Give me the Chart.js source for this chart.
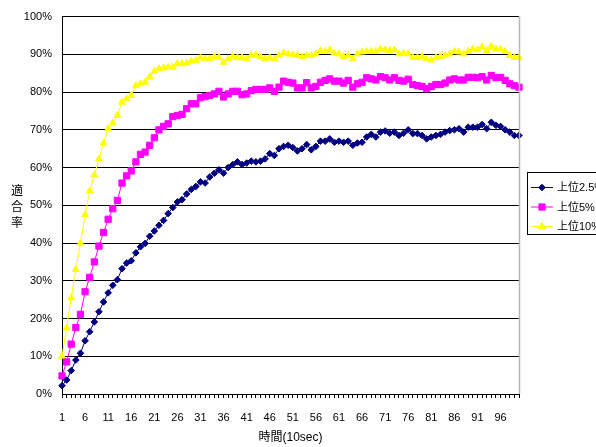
<!DOCTYPE html>
<html>
<head>
<meta charset="utf-8">
<script src="https://cdn.jsdelivr.net/npm/chart.js@4/dist/chart.umd.min.js"></script>
<style>
  html, body { margin: 0; padding: 0; background: #fff; }
  #wrap { width: 596px; height: 447px; overflow: hidden; }
</style>
</head>
<body>
<div id="wrap"><canvas id="c" width="596" height="447"></canvas></div>
<script>
const categories = [
  '1','2','3','4','5','6','7','8','9','10','11','12','13','14','15','16','17','18','19','20',
  '21','22','23','24','25','26','27','28','29','30','31','32','33','34','35','36','37','38','39','40',
  '41','42','43','44','45','46','47','48','49','50','51','52','53','54','55','56','57','58','59','60',
  '61','62','63','64','65','66','67','68','69','70','71','72','73','74','75','76','77','78','79','80',
  '81','82','83','84','85','86','87','88','89','90','91','92','93','94','95','96','97','98','99','100'
];

const seriesNames = ['上位2.5%', '上位5%', '上位10%'];

// 上位2.5% (percent)
const top2_5 = [
  2.2, 3.7, 6.2, 9.0, 10.8, 14.1, 16.5, 19.1, 21.8, 24.4,
  26.8, 28.8, 30.3, 33.2, 34.7, 35.3, 37.4, 39.0, 39.9, 41.8,
  43.2, 44.7, 46.0, 47.8, 49.4, 50.9, 51.5, 53.0, 54.2, 55.0,
  56.2, 55.9, 57.5, 58.5, 59.4, 58.5, 60.0, 60.8, 61.5, 60.8,
  61.2, 61.7, 61.5, 61.7, 62.3, 63.7, 63.2, 65.0, 65.6, 65.9,
  65.3, 64.4, 65.0, 66.1, 64.7, 65.6, 67.0, 67.0, 67.6, 66.7,
  67.0, 66.7, 67.0, 65.9, 66.5, 66.7, 68.1, 68.8, 68.1, 69.4,
  69.7, 69.1, 69.4, 68.5, 69.1, 70.0, 69.0, 69.0, 68.5, 67.6,
  68.1, 68.5, 68.8, 69.4, 69.8, 70.0, 70.3, 69.4, 70.7, 70.7,
  70.7, 71.4, 70.3, 72.0, 71.2, 70.9, 70.0, 69.4, 68.5, 68.5
];

// 上位5% (percent)
const top5 = [
  4.8, 8.5, 13.2, 17.6, 21.1, 27.1, 30.9, 35.0, 39.2, 42.8,
  46.3, 49.1, 51.3, 55.9, 57.8, 59.1, 61.5, 63.5, 64.1, 65.9,
  67.9, 70.0, 70.9, 71.6, 73.5, 73.8, 74.1, 75.6, 76.9, 76.9,
  78.5, 78.8, 79.1, 79.5, 80.2, 78.7, 79.5, 80.2, 80.2, 79.3,
  79.5, 80.4, 80.7, 80.7, 80.7, 81.1, 80.2, 81.3, 82.9, 82.6,
  82.4, 81.1, 81.1, 82.5, 81.1, 81.5, 82.6, 83.1, 83.5, 82.9,
  82.9, 82.4, 83.1, 81.3, 82.2, 82.6, 83.8, 83.5, 83.2, 84.1,
  83.8, 83.2, 83.8, 83.1, 82.9, 83.4, 82.0, 81.7, 81.5, 80.9,
  81.5, 82.0, 82.0, 82.4, 83.2, 83.5, 83.2, 83.2, 83.9, 83.9,
  83.8, 84.1, 83.2, 84.4, 83.8, 83.9, 83.1, 82.2, 81.7, 81.3
];

// 上位10% (percent)
const top10 = [
  10.0, 17.5, 25.5, 33.0, 40.0, 47.5, 53.8, 58.0, 62.3, 66.5,
  70.3, 71.8, 73.8, 77.3, 78.2, 79.1, 81.7, 82.2, 82.6, 84.1,
  85.5, 86.2, 86.4, 86.6, 86.6, 87.5, 87.5, 87.7, 88.2, 88.4,
  89.1, 88.8, 88.8, 89.4, 89.2, 87.9, 88.8, 89.4, 89.1, 89.1,
  88.8, 89.7, 89.9, 89.4, 88.8, 89.1, 88.8, 89.7, 90.4, 90.1,
  89.9, 89.7, 89.4, 89.7, 89.7, 90.1, 91.0, 90.8, 91.2, 90.3,
  90.1, 89.4, 89.7, 88.8, 90.1, 90.6, 90.8, 90.8, 90.8, 91.4,
  91.2, 91.0, 91.2, 90.1, 90.3, 90.1, 89.2, 89.1, 89.4, 88.8,
  88.5, 89.1, 89.4, 89.7, 90.1, 90.8, 90.6, 90.1, 90.8, 91.4,
  91.2, 91.9, 91.0, 92.1, 91.4, 91.4, 90.8, 89.7, 89.2, 89.2
];

const yTicks = ['0%','10%','20%','30%','40%','50%','60%','70%','80%','90%','100%'];
const xTitle = '時間(10sec)';
const yTitle = '適合率';

const FONT = '"Liberation Sans", Arial, "Noto Sans CJK JP", sans-serif';

const extrasPlugin = {
  id: 'extras',
  afterDraw(chart) {
    const ctx = chart.ctx;
    const a = chart.chartArea;
    ctx.save();
    // right border of plot area
    ctx.strokeStyle = '#b8b8b8';
    ctx.lineWidth = 1.5;
    ctx.beginPath();
    ctx.moveTo(a.right + 0.5, a.top);
    ctx.lineTo(a.right + 0.5, a.bottom);
    ctx.stroke();

    // stacked vertical y-axis title
    ctx.fillStyle = '#000';
    ctx.font = '12px "Noto Sans CJK JP", sans-serif';
    ctx.textAlign = 'center';
    ctx.textBaseline = 'middle';
    const chars = Array.from(yTitle);
    const step = 16;
    const cy = (a.top + a.bottom) / 2 + 1;
    const y0 = cy - (chars.length - 1) * step / 2;
    chars.forEach((ch, i) => ctx.fillText(ch, 17, y0 + i * step));

    // legend box
    const lx = 527.5, ly = 172.5, lw = 90, lh = 62;
    ctx.fillStyle = '#fff';
    ctx.fillRect(lx, ly, lw, lh);
    ctx.strokeStyle = '#000';
    ctx.lineWidth = 1;
    ctx.strokeRect(lx, ly, lw, lh);
    ctx.font = '11px ' + FONT;
    ctx.textAlign = 'left';
    ctx.textBaseline = 'middle';
    chart.data.datasets.forEach((ds, i) => {
      const y = ly + 15 + i * 19.5;
      ctx.strokeStyle = ds.borderColor;
      ctx.lineWidth = 1;
      ctx.beginPath();
      ctx.moveTo(531, y);
      ctx.lineTo(553, y);
      ctx.stroke();
      ctx.fillStyle = ds.pointBackgroundColor;
      ctx.strokeStyle = ds.pointBorderColor;
      Chart.helpers.drawPoint(ctx, {
        pointStyle: ds.pointStyle, radius: ds.pointRadius, rotation: 0, borderWidth: 1
      }, 542, y);
      ctx.fillStyle = '#000';
      ctx.fillText(ds.label, 557, y + 0.5);
    });
    ctx.restore();
  }
};

const colors = ['#000080', '#FF00FF', '#FFFF00'];
const styles = ['rectRot', 'rect', 'triangle'];
const radii = [3.3, 4.4, 3.9];
const values = [top2_5, top5, top10];

new Chart(document.getElementById('c'), {
  type: 'line',
  data: {
    labels: categories,
    datasets: values.map((v, i) => ({
      label: seriesNames[i],
      data: v,
      borderColor: colors[i],
      backgroundColor: colors[i],
      pointBackgroundColor: colors[i],
      pointBorderColor: colors[i],
      pointStyle: styles[i],
      pointRadius: radii[i],
      pointBorderWidth: 1,
      borderWidth: 1,
      tension: 0,
      fill: false
    }))
  },
  options: {
    responsive: false,
    animation: false,
    devicePixelRatio: 1,
    layout: { padding: { top: 16, right: 77, bottom: 0, left: 0 } },
    plugins: {
      legend: { display: false },
      tooltip: { enabled: false },
      title: { display: false }
    },
    scales: {
      x: {
        type: 'category',
        offset: false,
        afterFit(s) { s.height = 53; },
        grid: {
          drawOnChartArea: false,
          drawTicks: true,
          tickLength: 4,
          color: '#000',
          lineWidth: 1
        },
        border: { display: true, color: '#000', width: 1 },
        ticks: {
          autoSkip: false,
          maxRotation: 0,
          minRotation: 0,
          padding: 13,
          color: '#000',
          font: { family: FONT, size: 11 },
          callback(val, idx) { return idx % 5 === 0 ? categories[idx] : ''; }
        },
        title: {
          display: true,
          text: xTitle,
          color: '#000',
          font: { family: FONT, size: 12 },
          padding: { top: 0, bottom: 2 }
        }
      },
      y: {
        min: 0,
        max: 100,
        afterFit(s) { s.width = 62; },
        grid: {
          drawTicks: false,
          color: '#000',
          lineWidth: 1
        },
        border: { display: true, color: '#000', width: 1 },
        ticks: {
          stepSize: 10,
          padding: 10,
          color: '#000',
          font: { family: FONT, size: 11 },
          callback(val) { return yTicks[Math.round(val / 10)]; }
        }
      }
    }
  },
  plugins: [extrasPlugin]
});
</script>
</body>
</html>
